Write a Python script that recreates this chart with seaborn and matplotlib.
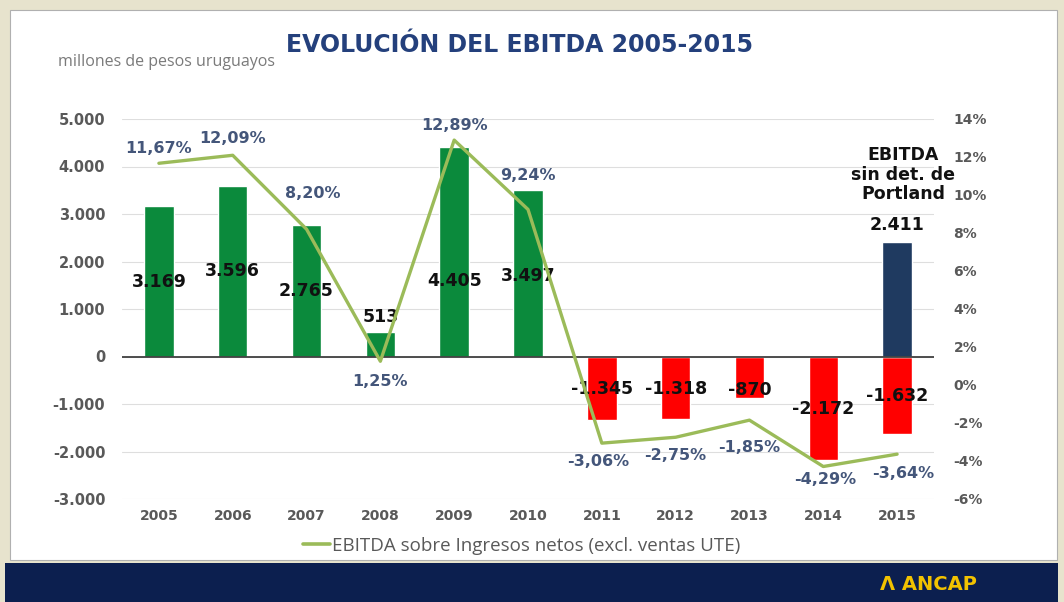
import numpy as np
import matplotlib.pyplot as plt
import seaborn as sns
from matplotlib.patches import Rectangle
from matplotlib.lines import Line2D
from matplotlib.ticker import FuncFormatter

years = ["2005", "2006", "2007", "2008", "2009", "2010",
         "2011", "2012", "2013", "2014", "2015"]
ebitda = [3169, 3596, 2765, 513, 4405, 3497, -1345, -1318, -870, -2172, -1632]
ebitda_sin_portland = [2411]
pct_ingresos = [11.67, 12.09, 8.20, 1.25, 12.89, 9.24, -3.06, -2.75, -1.85, -4.29, -3.64]

bar_labels = ["3.169", "3.596", "2.765", "513", "4.405", "3.497",
              "-1.345", "-1.318", "-870", "-2.172", "-1.632"]
pct_labels = ["11,67%", "12,09%", "8,20%", "1,25%", "12,89%", "9,24%",
              "-3,06%", "-2,75%", "-1,85%", "-4,29%", "-3,64%"]

# where the value labels sit (data units) and pct label offsets (pixels)
bar_label_y = [1560, 1790, 1370, 840, 1580, 1690, -675, -675, -715, -1115, -840]
pct_offsets = [(0, 15), (0, 17), (6, 36), (0, -20), (0, 15), (0, 34),
               (-4, -18), (0, -18), (0, -27), (2, -13), (6, -19)]

GREEN = "#0b8a3c"
RED = "#ff0000"
NAVY_BAR = "#1f3a60"
LINE = "#9bbb59"
TICK = "#595959"
PCT_TXT = "#44567a"
TITLE = "#24407c"

sns.set_style("white")
plt.rcParams["font.family"] = ["DejaVu Sans"]

W, H = 1064, 602
fig = plt.figure(figsize=(W / 100, H / 100), dpi=100)
fig.patch.set_facecolor("#e7e3cd")

# white panel and navy footer
fig.add_artist(Rectangle((10 / W, 1 - 560 / H), 1047 / W, 550 / H,
                         transform=fig.transFigure, facecolor="white",
                         edgecolor="#b0b0b0", lw=0.8, zorder=0))
fig.add_artist(Rectangle((5 / W, 0), 1053 / W, 39 / H,
                         transform=fig.transFigure, facecolor="#0c1f4f",
                         edgecolor="none", zorder=0))
fig.text(928 / W, 1 - 585 / H, "Λ ANCAP", color="#f2c200", fontsize=14,
         fontweight="bold", ha="center", va="center")

ax = fig.add_axes([122 / W, 1 - 499 / H, 812 / W, 380 / H])
ax.set_facecolor("none")

bar_colors = [GREEN] * 6 + [RED] * 5
sns.barplot(x=years, y=ebitda, hue=years, palette=bar_colors, legend=False,
            order=years, width=0.4, saturation=1, ax=ax, zorder=2)
sns.barplot(x=years[-1:], y=ebitda_sin_portland, order=years, color=NAVY_BAR,
            width=0.4, saturation=1, ax=ax, zorder=2)

ax.set_ylim(-3000, 5000)
ax.set_yticks(range(-3000, 5001, 1000))
ax.yaxis.set_major_formatter(FuncFormatter(lambda v, p: f"{int(v):,}".replace(",", ".")))
ax.grid(axis="y", color="#dedede", lw=0.8, zorder=0)
ax.axhline(0, color="#404040", lw=1.3, zorder=3)
for s in ax.spines.values():
    s.set_visible(False)
ax.tick_params(axis="y", length=0, pad=12, labelsize=10.5, labelcolor=TICK)
ax.tick_params(axis="x", length=0, pad=7, labelsize=10, labelcolor=TICK)
for t in ax.get_xticklabels() + ax.get_yticklabels():
    t.set_fontweight("bold")
ax.set_xlabel("")
ax.set_ylabel("")

for i, (lab, y) in enumerate(zip(bar_labels, bar_label_y)):
    ax.text(i, y, lab, ha="center", va="center", fontsize=12.5,
            fontweight="bold", color="#111111", zorder=4)
ax.annotate("2.411", (10, ebitda_sin_portland[0]), xytext=(0, 17),
            textcoords="offset pixels", ha="center", va="center",
            fontsize=12.5, fontweight="bold", color="#111111")
ax.text(10.08, 3830, "EBITDA\nsin det. de\nPortland", ha="center", va="center",
        fontsize=12.5, fontweight="bold", color="#111111", linespacing=1.1)

ax2 = ax.twinx()
x = np.arange(len(years))
sns.lineplot(x=x, y=pct_ingresos, ax=ax2, color=LINE, lw=2.4, sort=False, zorder=5)
ax2.set_ylim(-6, 14)
ax2.set_yticks(range(-6, 15, 2))
ax2.yaxis.set_major_formatter(FuncFormatter(lambda v, p: f"{int(v)}%"))
ax2.tick_params(axis="y", length=0, pad=14, labelsize=10, labelcolor=TICK)
for t in ax2.get_yticklabels():
    t.set_fontweight("bold")
for s in ax2.spines.values():
    s.set_visible(False)
ax2.set_ylabel("")
ax.set_xlim(-0.5, 10.5)

for i, (lab, off) in enumerate(zip(pct_labels, pct_offsets)):
    ax2.annotate(lab, (x[i], pct_ingresos[i]), xytext=off,
                 textcoords="offset pixels", ha="center", va="center",
                 fontsize=11.5, fontweight="bold", color=PCT_TXT, zorder=6)

fig.text(520 / W, 1 - 45 / H, "EVOLUCIÓN DEL EBITDA 2005-2015", ha="center",
         va="center", fontsize=17, fontweight="bold", color=TITLE)
fig.text(58 / W, 1 - 62 / H, "millones de pesos uruguayos", ha="left",
         va="center", fontsize=11.5, color="#7a7a7a", family=["Open Sans", "DejaVu Sans"])

handle = Line2D([], [], color=LINE, lw=2.6)
fig.legend([handle], ["EBITDA sobre Ingresos netos (excl. ventas UTE)"],
           loc="center", bbox_to_anchor=(522 / W, 1 - 546 / H), frameon=False,
           prop={"family": ["Open Sans", "DejaVu Sans"], "size": 13.5},
           handlelength=1.4, handletextpad=0.15, labelcolor="#595959")

fig.savefig("out.png", dpi=100, facecolor=fig.get_facecolor())
